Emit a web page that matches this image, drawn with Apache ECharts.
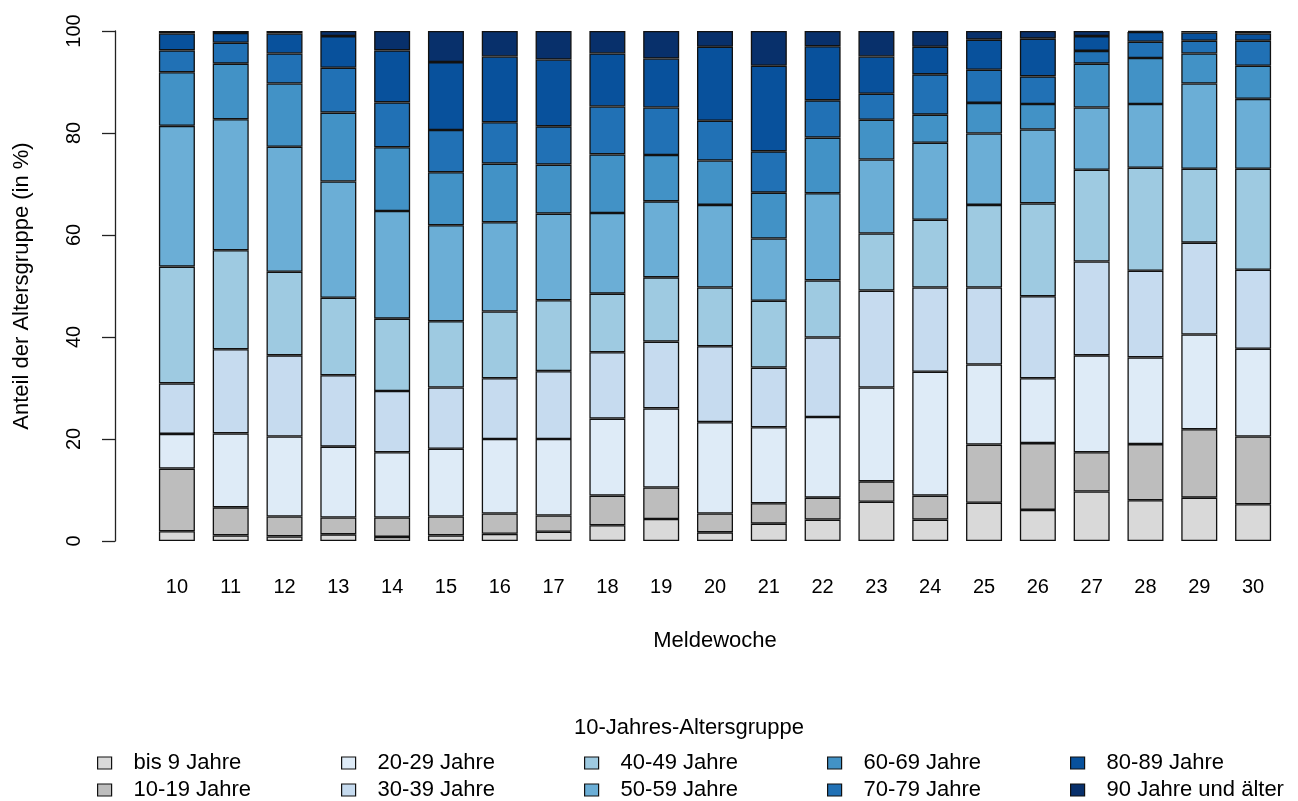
<!DOCTYPE html>
<html>
<head>
<meta charset="utf-8">
<script src="https://cdn.jsdelivr.net/npm/echarts@6/dist/echarts.min.js"></script>
<style>
html,body{margin:0;padding:0;background:#fff;}
#chart{width:1298px;height:801px;}
</style>
</head>
<body>
<div id="chart"></div>
<script>
const weeks = ['10','11','12','13','14','15','16','17','18','19','20','21','22','23','24','25','26','27','28','29','30'];
const groups = ['bis 9 Jahre','10-19 Jahre','20-29 Jahre','30-39 Jahre','40-49 Jahre','50-59 Jahre','60-69 Jahre','70-79 Jahre','80-89 Jahre','90 Jahre und älter'];
const groupColors = ['#D9D9D9','#BDBDBD','#DEEBF7','#C6DBEF','#9ECAE1','#6BAED6','#4292C6','#2171B5','#08519C','#08306B'];

const bis9   = [1.9,1.1,0.9,1.3,0.8,1.1,1.4,1.8,3.1,4.3,1.7,3.4,4.2,7.7,4.2,7.5,6.1,9.7,8.0,8.5,7.2];
const a10_19 = [12.3,5.5,3.9,3.3,3.8,3.7,4.0,3.2,5.8,6.2,3.7,4.0,4.3,4.0,4.7,11.4,13.1,7.7,11.0,13.4,13.3];
const a20_29 = [6.8,14.5,15.7,13.9,12.8,13.3,14.6,15.0,15.1,15.5,17.9,14.9,15.8,18.4,24.3,15.7,12.7,19.0,17.0,18.6,17.2];
const a30_39 = [9.9,16.5,15.9,14.0,12.0,12.0,11.9,13.3,13.0,13.1,14.9,11.7,15.6,19.0,16.5,15.1,16.1,18.4,17.0,18.0,15.5];
const a40_49 = [22.9,19.4,16.4,15.2,14.2,13.0,13.1,13.9,11.5,12.6,11.5,13.1,11.2,11.2,13.3,16.2,18.2,18.0,20.2,14.5,19.8];
const a50_59 = [27.6,25.7,24.5,22.8,21.1,18.8,17.5,17.0,15.8,14.9,16.2,12.2,17.1,14.5,15.1,14.0,14.5,12.2,12.5,16.7,13.7];
const a60_69 = [10.5,10.9,12.4,13.5,12.5,10.4,11.5,9.6,11.5,9.1,8.7,9.0,10.9,7.8,5.5,6.0,5.0,8.6,9.0,5.9,6.5];
const a70_79 = [4.3,4.1,5.9,8.8,8.8,8.3,8.1,7.5,9.4,9.3,7.8,8.1,7.3,5.1,7.9,6.5,5.4,2.5,3.2,2.5,4.9];
const a80_89 = [3.3,1.9,3.9,6.2,10.2,13.3,12.9,13.1,10.4,9.6,14.5,16.8,10.6,7.3,5.4,5.9,7.4,2.9,1.9,1.6,1.4];
const a90    = [0.5,0.4,0.5,1.0,3.8,6.1,5.0,5.6,4.4,5.4,3.1,6.8,3.0,5.0,3.1,1.7,1.5,1.0,0.2,0.3,0.5];
const yTicks = [0,20,40,60,80,100];

const seriesValues = [bis9,a10_19,a20_29,a30_39,a40_49,a50_59,a60_69,a70_79,a80_89,a90];
const FONT = "'Liberation Sans', Arial, sans-serif";

const chart = echarts.init(document.getElementById('chart'), null, {renderer:'canvas'});

const series = groups.map((g,i)=>({
  name: g,
  type: 'bar',
  stack: 'total',
  barWidth: 36,
  data: seriesValues[i],
  itemStyle: {color: groupColors[i], borderColor: '#111', borderWidth: 1.3},
  emphasis: {disabled: true}
}));

const legendCols = [97, 341, 584, 827, 1070];
const legends = legendCols.map((x,c)=>({
  orient: 'vertical',
  left: x,
  top: 752,
  padding: 0,
  itemWidth: 14,
  itemHeight: 12,
  itemGap: 5,
  icon: 'rect',
  selectedMode: false,
  data: [groups[c*2], groups[c*2+1]],
  itemStyle: {borderColor: '#111', borderWidth: 1.2},
  textStyle: {fontFamily: FONT, fontSize: 22, lineHeight: 22, color: '#000', padding: [0,0,0,17]}
}));

chart.setOption({
  animation: false,
  backgroundColor: '#fff',
  title: {
    text: '10-Jahres-Altersgruppe',
    left: 689,
    textAlign: 'center',
    top: 717,
    padding: 0,
    textStyle: {fontFamily: FONT, fontSize: 22, fontWeight: 'normal', color: '#000'}
  },
  legend: legends,
  grid: {left: 150, right: 18, top: 31, bottom: 260, containLabel: false},
  xAxis: {
    type: 'category',
    data: weeks,
    axisLine: {show: false},
    axisTick: {show: false},
    axisLabel: {margin: 36, fontFamily: FONT, fontSize: 20, color: '#000'},
    name: 'Meldewoche',
    nameLocation: 'middle',
    nameGap: 89,
    nameTextStyle: {fontFamily: FONT, fontSize: 22, color: '#000'}
  },
  yAxis: {
    type: 'value',
    min: 0, max: 100, interval: 20,
    offset: 35,
    splitLine: {show: false},
    axisLine: {show: true, lineStyle: {color: '#222', width: 1.3}},
    axisTick: {show: true, length: 13, lineStyle: {color: '#222', width: 1.3}},
    axisLabel: {rotate: 90, margin: 31, fontFamily: FONT, fontSize: 20, color: '#000',
      formatter: v => yTicks.includes(v) ? String(v) : ''},
    name: 'Anteil der Altersgruppe (in %)',
    nameLocation: 'middle',
    nameGap: 82,
    nameTextStyle: {fontFamily: FONT, fontSize: 22, color: '#000'}
  },
  series: series
});
</script>
</body>
</html>
